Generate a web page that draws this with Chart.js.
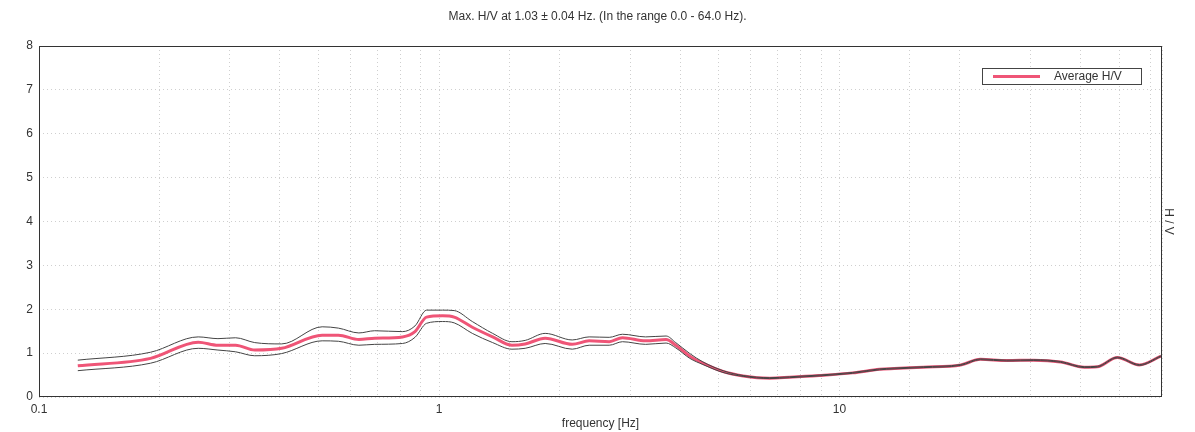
<!DOCTYPE html>
<html>
<head>
<meta charset="utf-8">
<script src="https://cdn.jsdelivr.net/npm/chart.js@4/dist/chart.umd.min.js"></script>
<style>
  body { margin: 0; background: #fff; }
</style>
</head>
<body>
<canvas id="myChart" width="1195" height="432"></canvas>
<script>
// frequency [Hz] and H/V
const freqs = [0.125, 0.19, 0.25, 0.28, 0.31, 0.346, 0.404, 0.51, 0.56, 0.63, 0.69, 0.81, 0.87, 0.93, 1.02, 1.09, 1.21, 1.36, 1.52, 1.64, 1.84, 2.15, 2.37, 2.66, 2.87, 3.28, 3.69, 3.90, 4.23, 4.56, 5.12, 5.75, 6.7, 7.5, 8.9, 10.8, 12.6, 13.7, 16.2, 20.1, 22.5, 26.2, 30.6, 35.7, 40.9, 44.1, 49.5, 56.2, 63.6];
const avgHV = [0.71, 0.88, 1.25, 1.18, 1.18, 1.07, 1.11, 1.41, 1.41, 1.31, 1.34, 1.37, 1.49, 1.82, 1.85, 1.82, 1.59, 1.37, 1.18, 1.21, 1.34, 1.20, 1.28, 1.26, 1.35, 1.28, 1.31, 1.18, 0.93, 0.77, 0.58, 0.48, 0.43, 0.45, 0.49, 0.55, 0.63, 0.65, 0.68, 0.73, 0.86, 0.83, 0.84, 0.80, 0.68, 0.69, 0.90, 0.73, 0.93];
const upperHV = [0.84, 1.02, 1.37, 1.33, 1.35, 1.24, 1.21, 1.60, 1.57, 1.46, 1.51, 1.49, 1.62, 1.98, 1.98, 1.97, 1.72, 1.45, 1.26, 1.29, 1.45, 1.30, 1.37, 1.36, 1.43, 1.37, 1.39, 1.24, 0.99, 0.80, 0.60, 0.49, 0.44, 0.46, 0.50, 0.56, 0.64, 0.66, 0.69, 0.74, 0.87, 0.84, 0.85, 0.81, 0.69, 0.70, 0.91, 0.74, 0.94];
const lowerHV = [0.60, 0.77, 1.11, 1.07, 1.03, 0.94, 0.99, 1.28, 1.27, 1.18, 1.20, 1.22, 1.36, 1.68, 1.72, 1.69, 1.45, 1.24, 1.09, 1.11, 1.22, 1.09, 1.18, 1.18, 1.26, 1.20, 1.23, 1.12, 0.88, 0.74, 0.56, 0.47, 0.42, 0.44, 0.48, 0.54, 0.62, 0.64, 0.67, 0.72, 0.85, 0.82, 0.83, 0.79, 0.67, 0.68, 0.89, 0.72, 0.92];
const xLabels = [0.1, 1, 10];

const font = { family: 'Liberation Sans, Arial, sans-serif', size: 12 };

function toPoints(vals) {
  return freqs.map((f, i) => ({ x: f, y: vals[i] }));
}

// frame + legend box inside the plot
const frameLegend = {
  id: 'frameLegend',
  afterDraw(chart) {
    const ctx = chart.ctx;
    const a = chart.chartArea;
    ctx.save();
    ctx.strokeStyle = '#333';
    ctx.lineWidth = 1;
    ctx.strokeRect(a.left + 0.5, a.top + 0.5, a.right - a.left - 1, a.bottom - a.top - 1);

    const bx = a.right - 180, by = a.top + 22;
    ctx.fillStyle = '#fff';
    ctx.fillRect(bx, by, 159, 16);
    ctx.strokeStyle = '#444';
    ctx.strokeRect(bx + 0.5, by + 0.5, 159, 16);
    ctx.strokeStyle = '#ef5577';
    ctx.lineWidth = 3;
    ctx.beginPath();
    ctx.moveTo(bx + 11, by + 8.5);
    ctx.lineTo(bx + 58, by + 8.5);
    ctx.stroke();
    ctx.fillStyle = '#333';
    ctx.font = '12px ' + font.family;
    ctx.textBaseline = 'middle';
    ctx.fillText('Average H/V', bx + 72, by + 9);
    ctx.restore();
  }
};

function charts() {
  const ctx = document.getElementById('myChart').getContext('2d');
  new Chart(ctx, {
    type: 'line',
    data: {
      datasets: [{
        label: 'upper',
        data: toPoints(upperHV),
        borderColor: '#444',
        borderWidth: 1
      }, {
        label: 'lower',
        data: toPoints(lowerHV),
        borderColor: '#444',
        borderWidth: 1
      }, {
        label: 'Average H/V',
        data: toPoints(avgHV),
        borderColor: '#ef5577',
        borderWidth: 3
      }]
    },
    options: {
      responsive: false,
      animation: false,
      layout: { padding: 0 },
      elements: {
        point: { radius: 0 },
        line: { fill: false, cubicInterpolationMode: 'monotone' }
      },
      plugins: {
        legend: { display: false },
        tooltip: { enabled: false },
        title: {
          display: true,
          text: 'Max. H/V at 1.03 ± 0.04 Hz. (In the range 0.0 - 64.0 Hz).',
          color: '#333',
          font: { family: font.family, size: 12, weight: 'normal' },
          padding: { top: 9, bottom: 22.6 }
        }
      },
      scales: {
        x: {
          type: 'logarithmic',
          min: 0.1,
          max: 64,
          afterFit(s) { s.height = 35; },
          grid: { color: '#cfcfcf', drawTicks: false },
          border: { display: false, dash: [1, 3] },
          ticks: {
            autoSkip: false,
            maxRotation: 0,
            padding: 5,
            color: '#333',
            font: font,
            callback(v) {
              const hit = xLabels.find(l => Math.abs(l - v) < l * 1e-6);
              return hit !== undefined ? String(hit) : '';
            }
          },
          title: {
            display: true,
            text: 'frequency [Hz]',
            color: '#333',
            font: font,
            padding: { top: 0, bottom: 1.5 }
          }
        },
        y: {
          min: 0,
          max: 8,
          afterFit(s) { s.width = 39; },
          grid: { color: '#cfcfcf', drawTicks: false },
          border: { display: false, dash: [1, 3] },
          ticks: { stepSize: 1, padding: 6, color: '#333', font: font }
        },
        y2: {
          position: 'right',
          min: 0,
          max: 8,
          afterFit(s) { s.width = 33; },
          grid: { drawOnChartArea: false, drawTicks: false },
          border: { display: false },
          ticks: { display: false },
          title: {
            display: true,
            text: 'H / V',
            color: '#333',
            font: font,
            padding: { top: 19, bottom: 0 }
          }
        }
      }
    },
    plugins: [frameLegend]
  });
}

charts();
</script>
</body>
</html>
